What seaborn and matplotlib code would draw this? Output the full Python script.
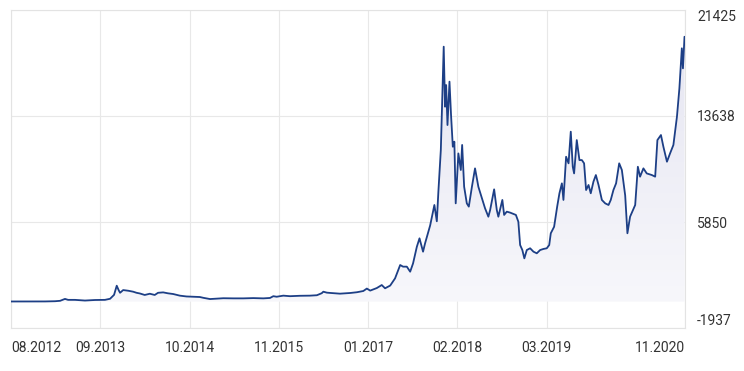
import matplotlib
matplotlib.use("Agg")
import matplotlib.pyplot as plt
import matplotlib.dates as mdates
from matplotlib.colors import LinearSegmentedColormap
import numpy as np
import pandas as pd
import seaborn as sns

dates = [
    "2012-08-10", "2012-11-04", "2013-01-10", "2013-02-24", "2013-03-19", "2013-04-10",
    "2013-04-24", "2013-05-25", "2013-07-09", "2013-08-23", "2013-10-07", "2013-10-30",
    "2013-11-17", "2013-11-29", "2013-12-08", "2013-12-14", "2013-12-28", "2014-01-20",
    "2014-02-11", "2014-02-26", "2014-03-13", "2014-04-04", "2014-04-27", "2014-05-19",
    "2014-06-03", "2014-06-26", "2014-07-18", "2014-08-10", "2014-09-09", "2014-10-09",
    "2014-11-08", "2014-12-08", "2014-12-24", "2015-01-23", "2015-02-22", "2015-03-24",
    "2015-05-08", "2015-06-22", "2015-08-06", "2015-09-20", "2015-10-20", "2015-11-04",
    "2015-11-19", "2015-12-19", "2016-01-18", "2016-03-03", "2016-04-17", "2016-05-18",
    "2016-06-09", "2016-06-16", "2016-07-02", "2016-07-16", "2016-08-30", "2016-10-15",
    "2016-11-14", "2016-12-13", "2016-12-29", "2017-01-13", "2017-02-12", "2017-03-06",
    "2017-03-21", "2017-04-13", "2017-05-05", "2017-05-28", "2017-06-10", "2017-06-27",
    "2017-07-12", "2017-07-25", "2017-08-11", "2017-08-23", "2017-09-08", "2017-09-17",
    "2017-10-10", "2017-10-29", "2017-11-09", "2017-11-16", "2017-11-27", "2017-12-10",
    "2017-12-16", "2017-12-21", "2017-12-27", "2018-01-05", "2018-01-12", "2018-01-20",
    "2018-01-27", "2018-02-02", "2018-02-14", "2018-02-25", "2018-03-03", "2018-03-12",
    "2018-03-24", "2018-04-02", "2018-04-16", "2018-04-30", "2018-05-15", "2018-05-31",
    "2018-06-14", "2018-06-29", "2018-07-07", "2018-07-25", "2018-08-06", "2018-08-13",
    "2018-08-31", "2018-09-08", "2018-09-20", "2018-10-05", "2018-10-20", "2018-10-31",
    "2018-11-11", "2018-11-19", "2018-11-29", "2018-12-08", "2018-12-19", "2019-01-03",
    "2019-01-18", "2019-02-02", "2019-02-17", "2019-03-04", "2019-03-19", "2019-03-30",
    "2019-04-06", "2019-04-21", "2019-05-05", "2019-05-15", "2019-05-26", "2019-06-02",
    "2019-06-14", "2019-06-25", "2019-07-05", "2019-07-14", "2019-07-20", "2019-08-01",
    "2019-08-13", "2019-08-24", "2019-09-03", "2019-09-12", "2019-09-23", "2019-10-03",
    "2019-10-15", "2019-10-26", "2019-11-07", "2019-11-22", "2019-12-07", "2019-12-22",
    "2020-01-01", "2020-01-13", "2020-01-25", "2020-02-08", "2020-02-20", "2020-02-27",
    "2020-03-06", "2020-03-16", "2020-03-28", "2020-04-20", "2020-05-02", "2020-05-12",
    "2020-05-27", "2020-06-11", "2020-07-04", "2020-07-19", "2020-07-29", "2020-08-14",
    "2020-08-25", "2020-09-10", "2020-09-24", "2020-10-09", "2020-10-25", "2020-11-05",
    "2020-11-16", "2020-11-21", "2020-11-28",
]
prices = [
    11, 11, 14, 30, 60, 200,
    130, 130, 80, 120, 130, 210,
    500, 1170, 830, 650, 850, 800,
    730, 650, 600, 490, 580, 490,
    650, 680, 610, 560, 440, 380,
    360, 340, 280, 190, 220, 250,
    240, 240, 260, 240, 270, 400,
    360, 440, 400, 430, 440, 470,
    620, 730, 660, 640, 585, 635,
    690, 780, 960, 810, 1000, 1220,
    980, 1180, 1710, 2690, 2570, 2570,
    2200, 2810, 4030, 4650, 3670, 4280,
    5600, 7100, 5900, 8075, 11140, 18730,
    14320, 15910, 12975, 16160, 13710, 11380,
    11750, 7220, 10890, 9670, 11510, 8440,
    7220, 6980, 8440, 9790, 8440, 7590,
    6860, 6240, 6730, 8250, 6730, 6240,
    7470, 6370, 6610, 6540, 6440, 6370,
    5870, 4160, 3790, 3180, 3790, 3920,
    3670, 3550, 3790, 3870, 3920, 4160,
    5020, 5500, 7000, 7960, 8690, 7470,
    10645, 10160, 12485, 9910, 9420, 11870,
    10400, 10400, 10160, 8200, 8570, 7960,
    8810, 9300, 8570, 7470, 7220, 7100,
    7470, 8200, 8690, 10160, 9670, 8800,
    7800, 5020, 6240, 7100, 9910, 9180,
    9790, 9420, 9300, 9180, 11870, 12240,
    11380, 10280, 10890, 11510, 13590, 15670,
    18610, 17140, 19460,
]
x_tick_labels = ["08.2012", "09.2013", "10.2014", "11.2015", "01.2017",
                 "02.2018", "03.2019", "11.2020"]
y_ticks = [-1937, 5850, 13638, 21425]

sns.set_style("white")
plt.rcParams["font.family"] = ["Roboto", "DejaVu Sans"]

df = pd.DataFrame({"date": pd.to_datetime(dates), "price": prices})

W, H = 744, 371
fig = plt.figure(figsize=(W / 100, H / 100), dpi=100)
fig.patch.set_facecolor("white")
ax = fig.add_axes([11 / W, 1 - 328 / H, (684.5 - 11) / W, (328 - 10) / H])

# gradient area fill under the line
poly = ax.fill_between(df["date"], df["price"], 0, color="none", lw=0)
xnum = mdates.date2num(df["date"])
grad = np.linspace(0, 1, 256).reshape(-1, 1)
cmap = LinearSegmentedColormap.from_list("g", ["#f7f7fb", "#e6e6f2"])
im = ax.imshow(grad, aspect="auto", cmap=cmap, origin="lower",
               extent=[xnum[0], xnum[-1], 0, max(prices)], zorder=1,
               interpolation="bilinear")
im.set_clip_path(poly.get_paths()[0], transform=ax.transData)

sns.lineplot(data=df, x="date", y="price", color="#1d3f86", lw=1.3,
             ax=ax, zorder=3)

start = df["date"].iloc[0]
end = df["date"].iloc[-1]
tick_pos = [start + pd.Timedelta(days=402 * k) for k in range(7)] + [end]
ax.set_xlim(start, end)
ax.set_ylim(y_ticks[0], y_ticks[-1])
ax.set_xticks(tick_pos)
ax.set_xticklabels(x_tick_labels)
ax.yaxis.tick_right()
ax.set_yticks(y_ticks)
ax.set_yticklabels([str(v) for v in y_ticks])
ax.set_xlabel("")
ax.set_ylabel("")

ax.grid(True, color="#e8e8e8", lw=0.8, zorder=0)
ax.set_axisbelow(True)
for s in ax.spines.values():
    s.set_color("#e3e3e3")
    s.set_linewidth(0.8)
ax.tick_params(axis="both", length=0, labelsize=10, colors="#333333")
ax.tick_params(axis="x", pad=9)
ax.tick_params(axis="y", pad=9)

xl = ax.get_xticklabels()
xl[0].set_ha("left")
xl[-1].set_ha("right")
yl = ax.get_yticklabels()
yl[0].set_va("bottom")
yl[-1].set_va("top")

fig.savefig("out.png", dpi=100, facecolor="white")
